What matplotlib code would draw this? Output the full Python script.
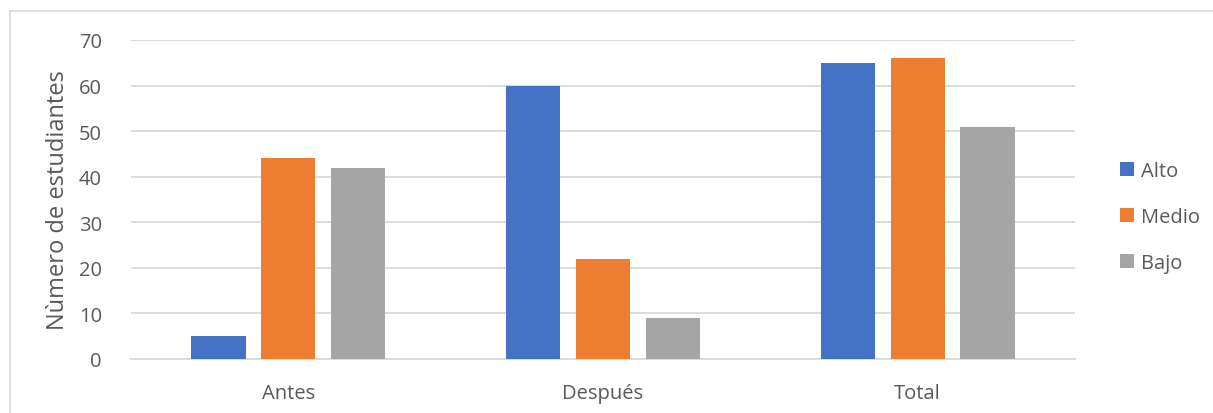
import matplotlib.pyplot as plt
import numpy as np
from matplotlib.lines import Line2D

categories = ["Antes", "Después", "Total"]
series_names = ["Alto", "Medio", "Bajo"]
alto = [5, 60, 65]
medio = [44, 22, 66]
bajo = [42, 9, 51]
y_ticks = [0, 10, 20, 30, 40, 50, 60, 70]

colors = ["#4472C4", "#ED7D31", "#A5A5A5"]
text_color = "#595959"
grid_color = "#D9D9D9"

plt.rcParams['font.family'] = ['Open Sans', 'DejaVu Sans']

fig = plt.figure(figsize=(12.13, 4.14), dpi=100)
ax = fig.add_axes([131 / 1213, 54 / 414, (1075 - 131) / 1213, (360 - 41) / 414])

x = np.arange(len(categories))
width = 0.172
step = 0.222
for i, (name, vals) in enumerate(zip(series_names, [alto, medio, bajo])):
    ax.bar(x + (i - 1) * step, vals, width, color=colors[i], label=name, zorder=3)

ax.set_xlim(-0.5, len(categories) - 0.5)
ax.set_ylim(0, 70)
ax.set_yticks(y_ticks)
ax.set_xticks(x)
ax.set_xticklabels(categories)
ax.yaxis.grid(True, color=grid_color, linewidth=1.3, zorder=0)
ax.tick_params(axis='both', length=0, labelsize=14.5, labelcolor=text_color)
ax.tick_params(axis='y', pad=21)
ax.tick_params(axis='x', pad=17)
for s in ['top', 'right', 'left']:
    ax.spines[s].set_visible(False)
ax.spines['bottom'].set_color(grid_color)
ax.spines['bottom'].set_linewidth(1.3)

ax.set_ylabel("Nùmero de estudiantes", fontsize=17, color=text_color, labelpad=6)

ax.legend(loc='center left', bbox_to_anchor=(1.028, 0.445), frameon=False,
          fontsize=14.5, labelcolor=text_color, handlelength=0.72, handleheight=0.72,
          handletextpad=0.35, labelspacing=1.3)

# chart frame (left and top edges only visible)
fig.add_artist(Line2D([10 / 1213, 10 / 1213], [0, 1 - 12 / 414], color=grid_color, lw=1.2))
fig.add_artist(Line2D([10 / 1213, 1], [1 - 12 / 414, 1 - 12 / 414], color=grid_color, lw=1.2))

fig.savefig("out.png", dpi=100)
